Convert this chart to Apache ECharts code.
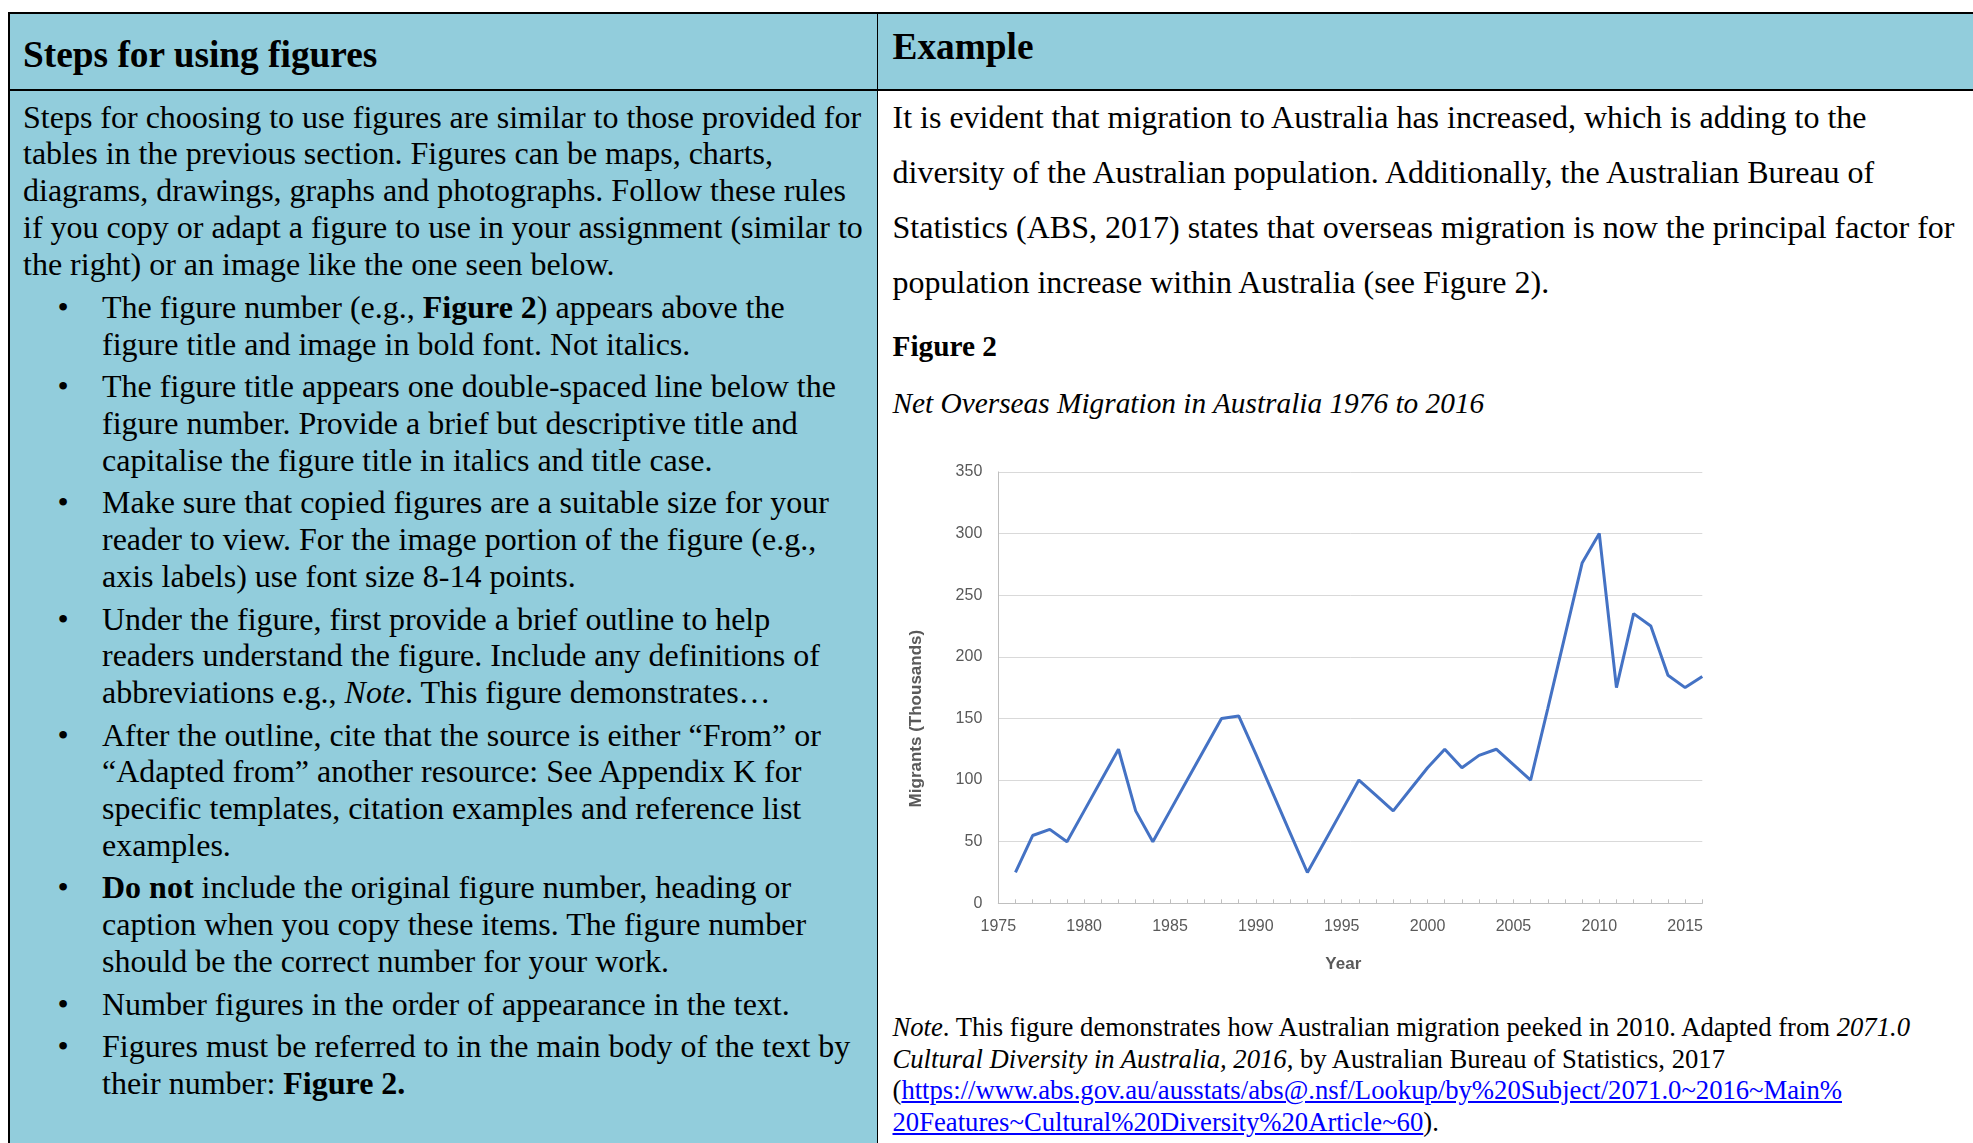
<!DOCTYPE html>
<html>
<head>
<meta charset="utf-8">
<script src="https://cdn.jsdelivr.net/npm/echarts@6/dist/echarts.min.js"></script>
<style>
  html, body { margin:0; padding:0; width:1973px; height:1143px; overflow:hidden; background:#fff; }
  body { position:relative; font-family:"Liberation Serif","Times New Roman",serif; color:#000; }
  .abs { position:absolute; white-space:nowrap; }
  .blue { background:#92CDDC; }
  .line { position:absolute; background:#000; }
  #left { left:23px; top:98.5px; font-size:32px; line-height:36.8px; }
  #left .p { margin-bottom:6.6px; }
  #left .li { position:relative; padding-left:79px; margin-bottom:5.7px; }
  #left .dot { position:absolute; left:34.4px; top:0; }
  #right { left:892.5px; top:89.6px; font-size:32px; line-height:55.2px; }
  .h { font-size:37.33px; line-height:42px; font-weight:bold; }
  #note { left:892.5px; top:1011.8px; font-size:26.67px; line-height:31.8px; }
  #note a { color:#0000ff; text-decoration:underline; }
  #chart { position:absolute; left:880px; top:440px; width:860px; height:560px; }
</style>
</head>
<body>
<!-- table backgrounds -->
<div class="abs blue" style="left:9px;top:13px;width:868px;height:1130px;"></div>
<div class="abs blue" style="left:877px;top:13px;width:1096px;height:77px;"></div>
<!-- borders -->
<div class="line" style="left:8px;top:12px;width:1965px;height:2px;"></div>
<div class="line" style="left:8px;top:89px;width:1965px;height:2px;"></div>
<div class="line" style="left:8px;top:12px;width:1.6px;height:1131px;"></div>
<div class="line" style="left:876.5px;top:12px;width:1.7px;height:1131px;"></div>

<div class="abs h" style="left:23px;top:34px;">Steps for using figures</div>
<div class="abs h" style="left:892.5px;top:26px;">Example</div>

<div id="left" class="abs">
  <div class="p">Steps for choosing to use figures are similar to those provided for<br>tables in the previous section. Figures can be maps, charts,<br>diagrams, drawings, graphs and photographs. Follow these rules<br>if you copy or adapt a figure to use in your assignment (similar to<br>the right) or an image like the one seen below.</div>
  <div class="li"><span class="dot">•</span>The figure number (e.g., <b>Figure 2</b>) appears above the<br>figure title and image in bold font. Not italics.</div>
  <div class="li"><span class="dot">•</span>The figure title appears one double-spaced line below the<br>figure number. Provide a brief but descriptive title and<br>capitalise the figure title in italics and title case.</div>
  <div class="li"><span class="dot">•</span>Make sure that copied figures are a suitable size for your<br>reader to view. For the image portion of the figure (e.g.,<br>axis labels) use font size 8-14 points.</div>
  <div class="li"><span class="dot">•</span>Under the figure, first provide a brief outline to help<br>readers understand the figure. Include any definitions of<br>abbreviations e.g., <i>Note</i>. This figure demonstrates…</div>
  <div class="li"><span class="dot">•</span>After the outline, cite that the source is either “From” or<br>“Adapted from” another resource: See Appendix K for<br>specific templates, citation examples and reference list<br>examples.</div>
  <div class="li"><span class="dot">•</span><b>Do not</b> include the original figure number, heading or<br>caption when you copy these items. The figure number<br>should be the correct number for your work.</div>
  <div class="li"><span class="dot">•</span>Number figures in the order of appearance in the text.</div>
  <div class="li"><span class="dot">•</span>Figures must be referred to in the main body of the text by<br>their number: <b>Figure 2.</b></div>
</div>

<div id="right" class="abs">It is evident that migration to Australia has increased, which is adding to the<br>diversity of the Australian population. Additionally, the Australian Bureau of<br>Statistics (ABS, 2017) states that overseas migration is now the principal factor for<br>population increase within Australia (see Figure 2).</div>

<div class="abs" style="left:892.5px;top:328px;font-size:29.33px;line-height:36.8px;font-weight:bold;">Figure 2</div>
<div class="abs" style="left:892.5px;top:385px;font-size:29.33px;line-height:36.8px;font-style:italic;">Net Overseas Migration in Australia 1976 to 2016</div>

<div id="chart"></div>

<div id="note" class="abs"><i>Note</i>. This figure demonstrates how Australian migration peeked in 2010. Adapted from <i>2071.0</i><br><i>Cultural Diversity in Australia, 2016</i>, by Australian Bureau of Statistics, 2017<br>(<a>https://www.abs.gov.au/ausstats/abs@.nsf/Lookup/by%20Subject/2071.0~2016~Main%</a><br><a>20Features~Cultural%20Diversity%20Article~60</a>).</div>

<script>
// Data
const years = [1976, 1977, 1978, 1979, 1980, 1981, 1982, 1983, 1984, 1985,
               1986, 1987, 1988, 1989, 1990, 1991, 1992, 1993, 1994, 1995,
               1996, 1997, 1998, 1999, 2000, 2001, 2002, 2003, 2004, 2005,
               2006, 2007, 2008, 2009, 2010, 2011, 2012, 2013, 2014, 2015, 2016];
const migrants = [25, 55, 60, 50, 75, 100, 125, 75, 50, 75,
                  100, 125, 150, 152, 121, 89, 57, 25, 50, 75,
                  100, 87.5, 75, 92.5, 110, 125, 110, 120, 125, 112.5,
                  100, 158, 217, 276, 300, 175, 235, 225, 185, 175, 184];
const xAxisName = 'Year';
const yAxisName = 'Migrants (Thousands)';

const chart = echarts.init(document.getElementById('chart'), null, { renderer: 'canvas' });
const axisFont = '"Liberation Sans", Arial, sans-serif';
chart.setOption({
  animation: false,
  backgroundColor: 'transparent',
  grid: { left: 118.3, top: 31.9, width: 704, height: 431.4 },
  xAxis: {
    type: 'value', min: 1975, max: 2016, interval: 1,
    name: xAxisName, nameLocation: 'middle', nameGap: 53,
    nameTextStyle: { fontFamily: axisFont, fontWeight: 'bold', fontSize: 17, color: '#595959', padding: [0, 14, 0, 0] },
    axisLine: { show: true, lineStyle: { color: '#bfbfbf', width: 1 } },
    axisTick: { show: true, inside: true, length: 4, lineStyle: { color: '#bfbfbf' } },
    axisLabel: {
      margin: 15.5, fontFamily: axisFont, fontSize: 16, color: '#595959',
      formatter: v => (v % 5 === 0 ? String(v) : '')
    },
    splitLine: { show: false }
  },
  yAxis: {
    type: 'value', min: 0, max: 350, interval: 50,
    name: yAxisName, nameLocation: 'middle', nameGap: 73,
    nameTextStyle: { fontFamily: axisFont, fontWeight: 'bold', fontSize: 17, color: '#595959', padding: [0, 62, 0, 0] },
    axisLine: { show: true, lineStyle: { color: '#bfbfbf', width: 1 } },
    axisTick: { show: false },
    axisLabel: { margin: 16, fontFamily: axisFont, fontSize: 16, color: '#595959' },
    splitLine: { show: true, lineStyle: { color: '#d9d9d9', width: 1 } }
  },
  series: [{
    type: 'line',
    data: years.map((y, i) => [y, migrants[i]]),
    showSymbol: false,
    symbol: 'none',
    lineStyle: { color: '#4472C4', width: 3 },
    itemStyle: { color: '#4472C4' }
  }]
});
</script>
</body>
</html>
